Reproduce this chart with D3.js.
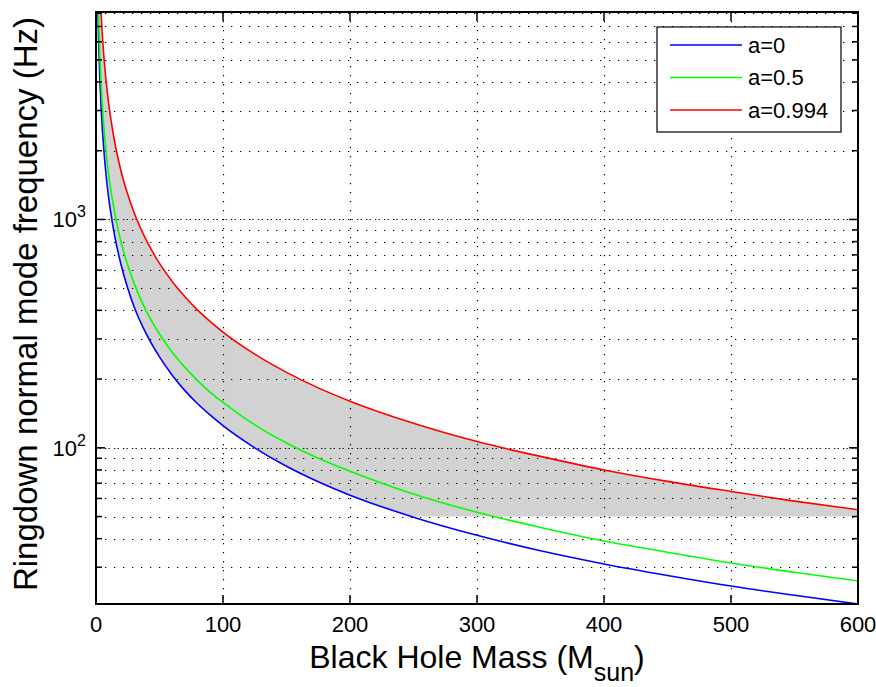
<!DOCTYPE html>
<html>
<head>
<meta charset="utf-8">
<script src="https://cdn.jsdelivr.net/npm/d3@7"></script>
<style>
  html, body { margin: 0; padding: 0; background: #fff; }
  svg { display: block; font-family: "Liberation Sans", Arial, Helvetica, sans-serif; }
</style>
</head>
<body>
<svg id="chart" width="876" height="687"></svg>
<script>
// Black hole mass (solar masses) at which the ringdown frequencies are sampled
const massSun = [1, 1.5, 2, 3, 4, 5, 6, 8, 10, 12, 15, 20, 25, 30, 40, 50, 60, 70, 80, 90,
                 100, 125, 150, 175, 200, 250, 300, 350, 400, 450, 500, 550, 600];

// Fundamental ringdown frequency (Hz) for spin a = 0
const freqA0 = [12400, 8270, 6200, 4130, 3100, 2480, 2070, 1550, 1240, 1040, 830, 625, 500, 415,
                312, 250, 208, 178, 156, 139, 125, 100, 83, 71, 62, 49.7, 41.4, 35.4, 31.0,
                27.6, 24.8, 22.6, 20.7];

// spin a = 0.5
const freqA05 = [15700, 10500, 7850, 5230, 3930, 3140, 2620, 1960, 1570, 1310, 1050, 785, 630, 525,
                 393, 315, 262, 225, 197, 175, 158, 126, 105, 90, 79, 62.8, 52.2, 44.8, 39.1,
                 34.9, 31.3, 28.5, 26.1];

// spin a = 0.994
const freqA0994 = [32100, 21400, 16000, 10700, 8030, 6420, 5350, 4010, 3210, 2680, 2140, 1605, 1285,
                   1070, 803, 642, 535, 459, 401, 357, 321, 257, 214, 183, 160, 128, 106.5, 91.7,
                   80.0, 71.3, 64.4, 58.4, 53.6];

const seriesNames = ["a=0", "a=0.5", "a=0.994"];

// Axis ranges and ticks
const massRange = [0, 600];
const freqRange = [20.7, 8100];
const massTicks = [0, 100, 200, 300, 400, 500, 600];
const freqDecades = [100, 1000];
const decadeLabels = [["10", "2"], ["10", "3"]];

// Lower frequency edge of the shaded band (Hz)
const bandFloor = 50;

// ---- layout & styles ----
const W = 876, H = 687;
const margin = { left: 96, top: 12, right: 18, bottom: 83 };
const plotW = W - margin.left - margin.right;
const plotH = H - margin.top - margin.bottom;
const lineColors = ["#0000ff", "#00ff00", "#ff0000"];
const bandColor = "#d2d2d2";

const svg = d3.select("#chart");
const g = svg.append("g").attr("transform", `translate(${margin.left},${margin.top})`);

const x = d3.scaleLinear().domain(massRange).range([0, plotW]);
const y = d3.scaleLog().domain(freqRange).range([plotH, 0]);

const defs = svg.append("defs");
defs.append("clipPath").attr("id", "plotClip")
  .append("rect").attr("x", 0).attr("y", 0).attr("width", plotW).attr("height", plotH);
defs.append("clipPath").attr("id", "bandClip")
  .append("rect").attr("x", 0).attr("y", 0).attr("width", plotW).attr("height", y(bandFloor));

const rows = massSun.map((m, i) => ({ m, f0: freqA0[i], f1: freqA05[i], f2: freqA0994[i] }));
const curve = d3.curveMonotoneX;

// shaded band between the a=0 and a=0.994 curves, above the floor frequency
g.append("g").attr("clip-path", "url(#plotClip)")
  .append("path")
  .datum(rows)
  .attr("clip-path", "url(#bandClip)")
  .attr("fill", bandColor)
  .attr("d", d3.area().curve(curve)
    .x(d => x(d.m)).y0(d => y(d.f0)).y1(d => y(d.f2)));

// ---- grid ----
const grid = g.append("g").attr("stroke", "#000").attr("stroke-width", 1.2)
  .attr("stroke-dasharray", "1.3 7.7").attr("fill", "none");
const allFreqTicks = y.ticks();
allFreqTicks.forEach(v => {
  grid.append("line").attr("x1", 0).attr("x2", plotW)
    .attr("y1", Math.round(y(v)) + 0.5).attr("y2", Math.round(y(v)) + 0.5);
});
freqDecades.forEach(v => {
  grid.append("line").attr("x1", 0).attr("x2", plotW)
    .attr("stroke-dashoffset", -3.5)
    .attr("y1", Math.round(y(v)) + 0.5).attr("y2", Math.round(y(v)) + 0.5);
});
massTicks.slice(1, -1).forEach(v => {
  grid.append("line").attr("y1", 0).attr("y2", plotH)
    .attr("x1", Math.round(x(v)) + 0.5).attr("x2", Math.round(x(v)) + 0.5);
});

// ---- curves ----
const lines = g.append("g").attr("clip-path", "url(#plotClip)");
["f0", "f1", "f2"].forEach((k, i) => {
  lines.append("path").datum(rows)
    .attr("fill", "none").attr("stroke", lineColors[i]).attr("stroke-width", 1.6)
    .attr("d", d3.line().curve(curve).x(d => x(d.m)).y(d => y(d[k])));
});

// ---- axes box & ticks (inward, all four sides) ----
const axisG = g.append("g").attr("stroke", "#000").attr("fill", "none");
const majorLen = 9, minorLen = 6;
massTicks.forEach(v => {
  const px = x(v);
  axisG.append("line").attr("x1", px).attr("x2", px).attr("y1", plotH).attr("y2", plotH - majorLen).attr("stroke-width", 1.5);
  axisG.append("line").attr("x1", px).attr("x2", px).attr("y1", 0).attr("y2", majorLen).attr("stroke-width", 1.5);
});
allFreqTicks.forEach(v => {
  const py = y(v);
  const len = freqDecades.includes(v) ? majorLen : minorLen;
  axisG.append("line").attr("x1", 0).attr("x2", len).attr("y1", py).attr("y2", py).attr("stroke-width", 1.5);
  axisG.append("line").attr("x1", plotW).attr("x2", plotW - len).attr("y1", py).attr("y2", py).attr("stroke-width", 1.5);
});
axisG.append("rect").attr("x", 0).attr("y", 0).attr("width", plotW).attr("height", plotH)
  .attr("stroke-width", 2);

// ---- tick labels ----
const tickFont = 22;
g.append("g").selectAll("text").data(massTicks).join("text")
  .attr("x", d => x(d)).attr("y", plotH + 28)
  .attr("text-anchor", "middle").attr("font-size", tickFont).attr("fill", "#000")
  .text(d => d);

freqDecades.forEach((v, i) => {
  const t = g.append("text").attr("x", -10).attr("y", y(v) + 8)
    .attr("text-anchor", "end").attr("font-size", tickFont).attr("fill", "#000");
  t.append("tspan").text(decadeLabels[i][0]);
  t.append("tspan").attr("dy", -10).attr("font-size", 16).text(decadeLabels[i][1]);
});

// ---- axis titles ----
const xt = svg.append("text")
  .attr("x", margin.left + plotW / 2).attr("y", 668)
  .attr("text-anchor", "middle").attr("font-size", 32).attr("fill", "#000");
xt.append("tspan").text("Black Hole Mass (M");
xt.append("tspan").attr("dy", 13).attr("font-size", 25).text("sun");
xt.append("tspan").attr("dy", -13).text(")");

svg.append("text")
  .attr("transform", `translate(37, ${margin.top + plotH / 2 - 4}) rotate(-90)`)
  .attr("text-anchor", "middle").attr("font-size", 33).attr("fill", "#000")
  .text("Ringdown normal mode frequency (Hz)");

// ---- legend ----
const leg = svg.append("g").attr("transform", "translate(657,27)");
leg.append("rect").attr("x", 0).attr("y", 0).attr("width", 184).attr("height", 105)
  .attr("fill", "#fff").attr("stroke", "#000").attr("stroke-width", 1.2);
seriesNames.forEach((name, i) => {
  const ly = 18 + i * 32.5;
  leg.append("line").attr("x1", 13).attr("x2", 85).attr("y1", ly).attr("y2", ly)
    .attr("stroke", lineColors[i]).attr("stroke-width", 1.6);
  leg.append("text").attr("x", 91).attr("y", ly).attr("dy", "0.36em")
    .attr("font-size", 22).attr("fill", "#000").text(name);
});
</script>
</body>
</html>
